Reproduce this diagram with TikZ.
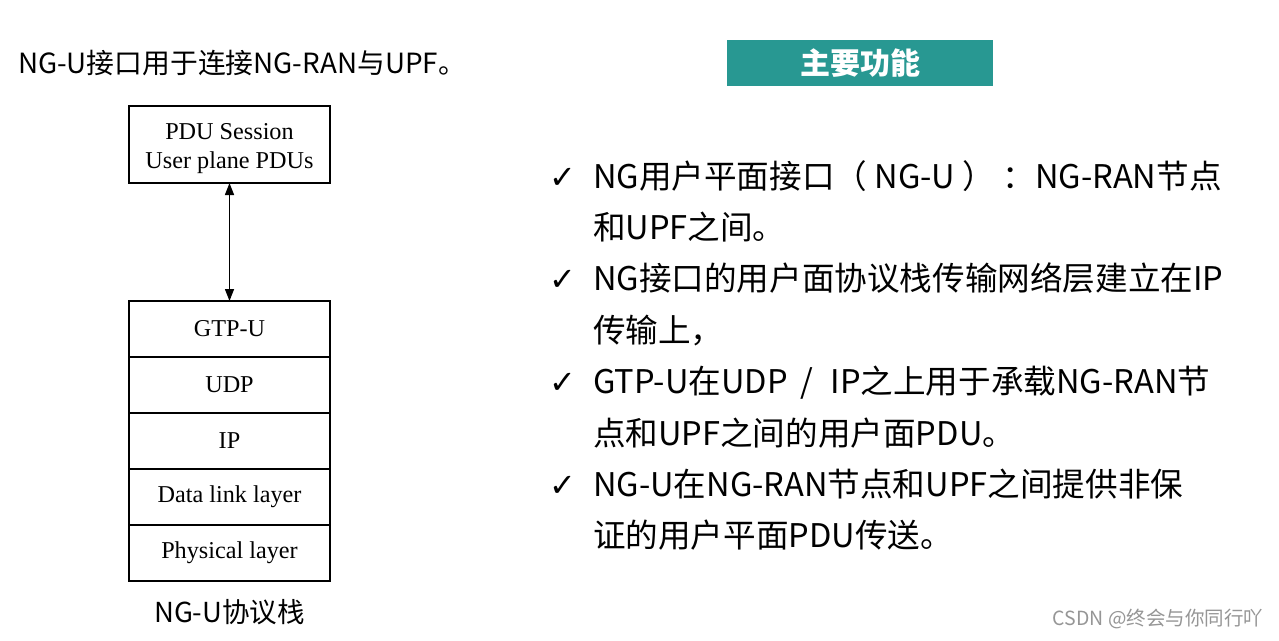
\documentclass[tikz,border=0pt]{standalone}
\usepackage{fontspec}
\setmainfont{Liberation Serif}
\newfontfamily\cjk{Noto Sans CJK SC}
\newfontfamily\symb{DejaVu Sans}
\usetikzlibrary{positioning,arrows.meta}
\definecolor{headTeal}{RGB}{40,152,146}
\definecolor{markGray}{RGB}{150,150,150}

\begin{document}
\begin{tikzpicture}
[x=1pt,y=-1pt,
  every node/.style={inner sep=0pt,outer sep=0pt},%
  layerBox/.style={draw,line width=1.4pt,minimum width=201pt,minimum height=56pt,
    font=\fontsize{24.2}{28}\selectfont},
  pointLine/.style={font=\cjk\fontsize{32.6}{40}\selectfont,anchor=base west},
  checkMark/.style={font=\symb\fontsize{32}{34}\selectfont,anchor=base east},
  linkArrow/.style={{Triangle[length=12pt,width=9pt]}-{Triangle[length=12pt,width=9pt]},line width=1.4pt}]
\useasboundingbox (0,0) rectangle (1279,640);
\fill[white] (0,0) rectangle (1279,640);

% left side: title, PDU box and the protocol stack
\node[font=\cjk\fontsize{27.8}{30}\selectfont,anchor=base west] (title) at (18,73)
  {NG-U接口用于连接NG-RAN与UPF。};
\node[layerBox,minimum height=77pt,align=center,font=\fontsize{24.2}{29}\selectfont]
  (pdu) at (229.5,144.5) {\rule{0pt}{24pt}PDU Session\\User plane PDUs};
\foreach \layerNo/\layerName/\layerText in {
  0/gtp/GTP-U, 1/udp/UDP, 2/ip/IP, 3/dataLink/Data link layer, 4/physical/Physical layer}
{
  \node[layerBox] (\layerName) at (229.5,329+56*\layerNo) {\layerText};
}
\draw[linkArrow] (pdu.south) -- (gtp.north);
\node[font=\cjk\fontsize{27.5}{30}\selectfont,below=18pt of physical] (stackCaption) {NG-U协议栈};

% right side: heading and the four points
\node[fill=headTeal,minimum width=266pt,minimum height=46pt,text=white,
  font=\cjk\bfseries\fontsize{30}{32}\selectfont] (mainFunc) at (860,63) {主要功能};
\foreach \lineNo/\lineText in {
  0/{NG用户平面接口（ NG-U ） ：NG-RAN节点}, 1/{和UPF之间。},
  2/{NG接口的用户面协议栈传输网络层建立在IP}, 3/{传输上，},
  4/{GTP-U在UDP\hspace{13pt}/\hspace{17pt}IP之上用于承载NG-RAN节}, 5/{点和UPF之间的用户面PDU。},
  6/{NG-U在NG-RAN节点和UPF之间提供非保}, 7/{证的用户平面PDU传送。}}
{
  \node[pointLine] (line\lineNo) at (593,188+51.4*\lineNo) {\lineText};
}
\foreach \itemNo in {0,2,4,6}
{
  \node[checkMark] (check\itemNo) at ([xshift=-17pt]line\itemNo.base west) {✓};
}

\node[font=\cjk\fontsize{19.5}{22}\selectfont,text=markGray,anchor=base east]
  (watermark) at (1263,625) {CSDN @终会与你同行吖};
\end{tikzpicture}
\end{document}
